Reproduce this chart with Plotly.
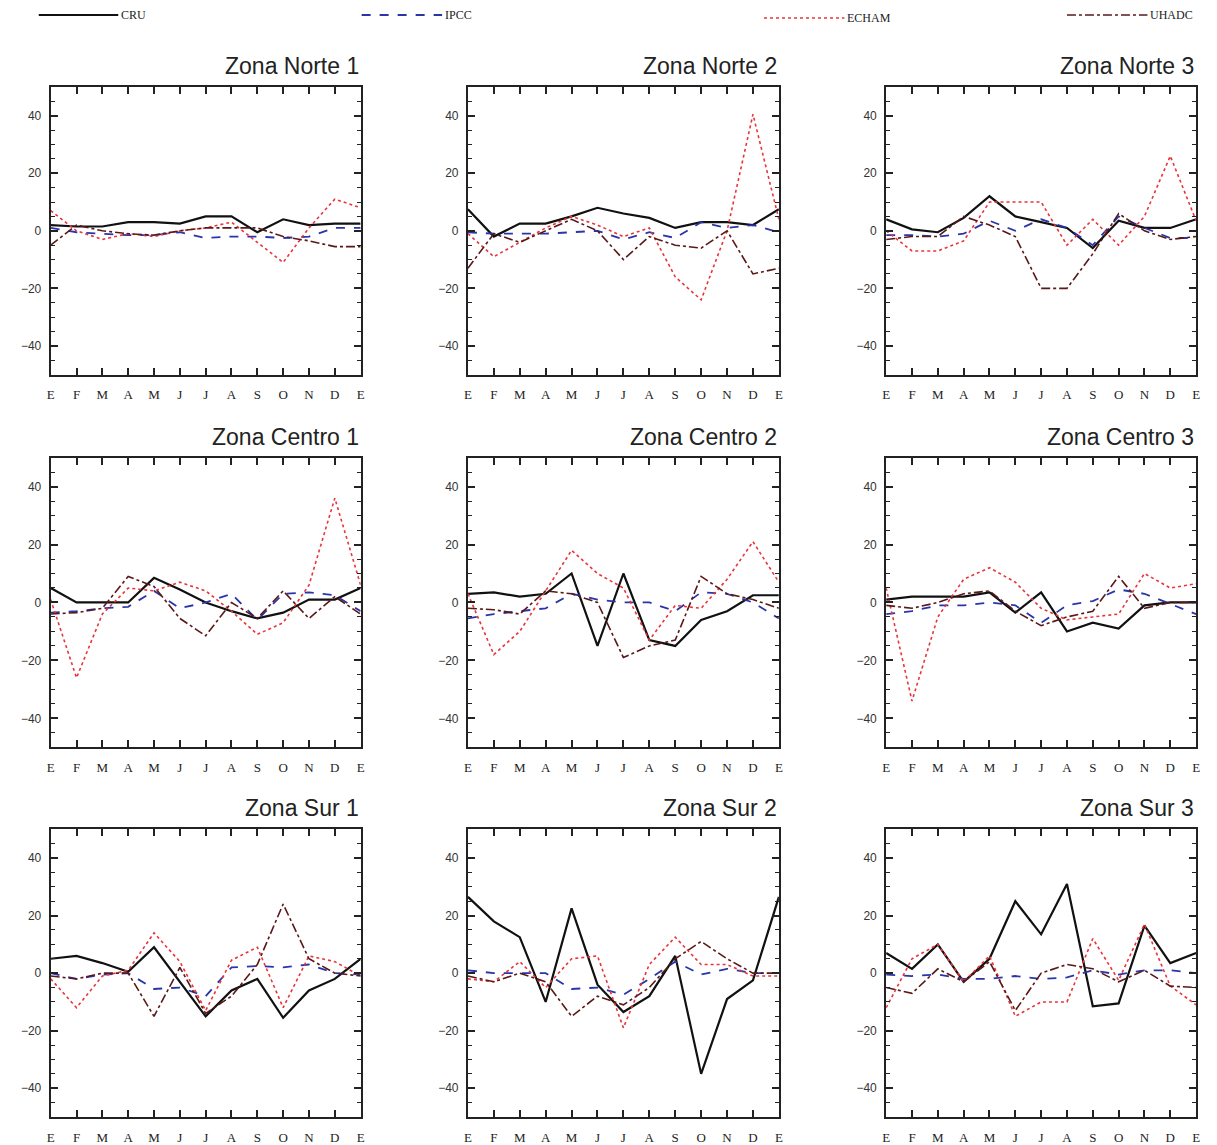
import plotly.graph_objects as go

W, H = 1217, 1145

months = ["E", "F", "M", "A", "M", "J", "J", "A", "S", "O", "N", "D", "E"]
zones = ["Zona Norte 1", "Zona Norte 2", "Zona Norte 3",
         "Zona Centro 1", "Zona Centro 2", "Zona Centro 3",
         "Zona Sur 1", "Zona Sur 2", "Zona Sur 3"]

cru = {
    "Zona Norte 1": [2, 1.5, 1.5, 3, 3, 2.5, 5, 5, -0.5, 4, 2, 2.5, 2.5],
    "Zona Norte 2": [7.5, -2, 2.5, 2.5, 5, 8, 6, 4.5, 1, 3, 3, 2, 7.5],
    "Zona Norte 3": [4, 0.5, -0.5, 4.5, 12, 5, 3, 1, -6, 3.5, 1, 1, 4],
    "Zona Centro 1": [5, 0, 0, 0, 8.5, 4.5, 0, -3, -5.5, -3.5, 1, 1, 5],
    "Zona Centro 2": [3, 3.5, 2, 3, 10, -15, 10, -13, -15, -6, -3, 2.5, 2.5],
    "Zona Centro 3": [1, 2, 2, 2, 3.5, -3.5, 3.5, -10, -7, -9, -1, 0, 0],
    "Zona Sur 1": [5, 6, 3.5, 0.5, 9, -3, -15, -6, -2, -15.5, -6, -2, 5],
    "Zona Sur 2": [26.5, 18, 12.5, -10, 22.5, -4, -13.5, -8, 6, -35, -9, -2.5, 26.5],
    "Zona Sur 3": [7, 1.5, 10, -3, 5, 25, 13.5, 31, -11.5, -10.5, 16.5, 3.5, 7],
}
ipcc = {
    "Zona Norte 1": [1, -0.5, -1, -1.5, -1.5, -0.5, -2.5, -2, -2, -2.5, -2, 1, 1],
    "Zona Norte 2": [-0.5, -1, -1, -1, -0.5, 0, -3, -0.5, -2.5, 3, 1, 2, -0.5],
    "Zona Norte 3": [-1.5, -1.5, -2, -1, 3.5, 0, 4, 1, -5, 5, 1, -2.5, -2.5],
    "Zona Centro 1": [-3.5, -3, -2, -1.5, 4, -2, 0, 3, -6, 3, 3.5, 2.5, -3],
    "Zona Centro 2": [-5.5, -4, -3, -2, 3, 1, 0, 0, -3, 3.5, 3, 0, -5.5],
    "Zona Centro 3": [-4, -3, -1, -1, 0, -1, -7, -1, 0.5, 4.5, 3, -0.5, -4],
    "Zona Sur 1": [0, -2, -0.5, 0, -5.5, -5, -8, 2, 2.5, 2, 3, 0, -0.5],
    "Zona Sur 2": [1, 0, 0, 0, -5.5, -5, -7.5, -2, 4, -0.5, 1.5, 0, 0],
    "Zona Sur 3": [-0.5, -1, -0.5, -2, -2, -1, -2, -1.5, 1, -0.5, 1, 1, 0],
}
echam = {
    "Zona Norte 1": [7, 0, -3, -1, -2, 0, 1, 3, -4, -11, 1, 11, 8],
    "Zona Norte 2": [-1, -9, -4, 1, 5, 2, -2, 1, -16, -24, 0, 40.5, 4],
    "Zona Norte 3": [0, -7, -7, -3.5, 10, 10, 10, -5, 4, -5, 5, 26, 3.5],
    "Zona Centro 1": [1, -26, -4, 5, 4, 7, 4, -3, -11, -7, 6, 36, 6],
    "Zona Centro 2": [3, -18, -10, 4, 18, 10, 5, -13, -1, -2, 8, 21, 7],
    "Zona Centro 3": [5, -34, -5, 8, 12, 7, -2, -6, -5, -4, 10, 5, 6.5],
    "Zona Sur 1": [-2, -12, -1, 1, 14, 4, -13, 4.5, 9, -12, 6, 4, -1],
    "Zona Sur 2": [-2, -3, 4, -5, 5, 6, -19, 3, 12.5, 3, 3, -1, -1],
    "Zona Sur 3": [-12, 5, 10, -3, 6, -15, -10, -10, 12, -2.5, 17, -4.5, -11],
}
uhadc = {
    "Zona Norte 1": [-5, 2, 0, -1, -1.5, 0, 1, 1, 1, -2, -3.5, -5.5, -5.5],
    "Zona Norte 2": [-13, -1, -4, 0, 4, 0, -10, -2, -5, -6, 0, -15, -13],
    "Zona Norte 3": [-3, -2, -2, 5, 2, -2, -20, -20, -8, 6, 0, -3, -2],
    "Zona Centro 1": [-4, -3.5, -2, 9, 5.5, -5.5, -11.5, 0, -5.5, 4, -5.5, 2, -4],
    "Zona Centro 2": [-2, -2.5, -4, 4, 3, 0, -19, -15, -13, 9, 3, 1, -2],
    "Zona Centro 3": [-1, -2, 0, 3, 4, -3, -8, -5, -3, 9, -2, 0, 0],
    "Zona Sur 1": [-1, -2, 0, 0, -15, 2, -14, -8, 3, 24, 5, 0, -1],
    "Zona Sur 2": [-1, -3, 0, -3, -15, -8, -11, -5, 5, 11, 5, 0, 0],
    "Zona Sur 3": [-5, -7, 1.5, -3, 4, -13, 0, 3, 1.5, -3, 1, -4.5, -5],
}

series = [
    ("CRU", cru, dict(color="#111111", width=2.2, dash="solid")),
    ("IPCC", ipcc, dict(color="#2a36a8", width=1.8, dash="dash")),
    ("ECHAM", echam, dict(color="#e8343a", width=1.6, dash="dot")),
    ("UHADC", uhadc, dict(color="#5a1818", width=1.6, dash="dashdot")),
]

# layout geometry (pixels)
col_px = [(47, 359), (467, 780), (888, 1200)]
row_px = [(87, 375), (458, 748), (830, 1118)]

x_vals = list(range(len(months)))

fig = go.Figure()
annotations = []
for i, zone in enumerate(zones):
    r, c = divmod(i, 3)
    n = i + 1
    xa = "x" if n == 1 else f"x{n}"
    ya = "y" if n == 1 else f"y{n}"
    for name, data, line in series:
        fig.add_trace(go.Scatter(x=x_vals, y=data[zone], mode="lines", name=name,
                                 line=line, showlegend=False, xaxis=xa, yaxis=ya,
                                 hoverinfo="skip"))
    xd = [col_px[c][0] / W, col_px[c][1] / W]
    yd = [1 - row_px[r][1] / H, 1 - row_px[r][0] / H]
    xkey = "xaxis" if n == 1 else f"xaxis{n}"
    ykey = "yaxis" if n == 1 else f"yaxis{n}"
    fig.update_layout({
        xkey: dict(domain=xd, anchor=ya, range=[0, len(months) - 1],
                   tickmode="array", tickvals=x_vals, ticktext=months,
                   ticks="inside", ticklen=7, tickwidth=1.5, tickcolor="#222",
                   showline=True, linecolor="#222", linewidth=2, mirror="allticks",
                   showgrid=False, zeroline=False, ticklabelstandoff=7,
                   tickfont=dict(family="Liberation Serif", size=13, color="#222")),
        ykey: dict(domain=yd, anchor=xa, range=[-50, 50],
                   tickmode="linear", tick0=0, dtick=20,
                   ticks="inside", ticklen=7, tickwidth=1.5, tickcolor="#222",
                   minor=dict(dtick=5, ticks="inside", ticklen=4, tickwidth=1, tickcolor="#222"),
                   showline=True, linecolor="#222", linewidth=2, mirror="allticks",
                   showgrid=False, zeroline=False, ticklabelstandoff=5,
                   tickfont=dict(family="Liberation Sans", size=12, color="#333")),
    })
    annotations.append(dict(text=zone, x=xd[1], y=yd[1], xref="paper", yref="paper",
                            xanchor="right", yanchor="bottom", yshift=6, showarrow=False,
                            font=dict(family="Liberation Sans", size=23, color="#222")))

# legend keys drawn at the top of the figure
legend_px = [(35, 115, 15), (360, 441, 15), (765, 846, 18), (1070, 1151, 15)]
shapes = []
for (name, _, line), (x0, x1, yy) in zip(series, legend_px):
    shapes.append(dict(type="line", xref="paper", yref="paper",
                       x0=x0 / W, x1=x1 / W, y0=1 - yy / H, y1=1 - yy / H,
                       line=dict(color=line["color"], width=line["width"], dash=line["dash"])))
    annotations.append(dict(text=name, x=(x1 + 1) / W, y=1 - yy / H, xref="paper", yref="paper",
                            xanchor="left", yanchor="middle", showarrow=False,
                            font=dict(family="Liberation Serif", size=12, color="#222")))

fig.update_layout(width=W, height=H, margin=dict(l=0, r=0, t=0, b=0),
                  paper_bgcolor="white", plot_bgcolor="white",
                  showlegend=False, annotations=annotations, shapes=shapes)

fig.write_html("out.html", config={"displayModeBar": False},
               post_script="document.body.style.margin='0px';document.body.style.overflow='hidden';")
